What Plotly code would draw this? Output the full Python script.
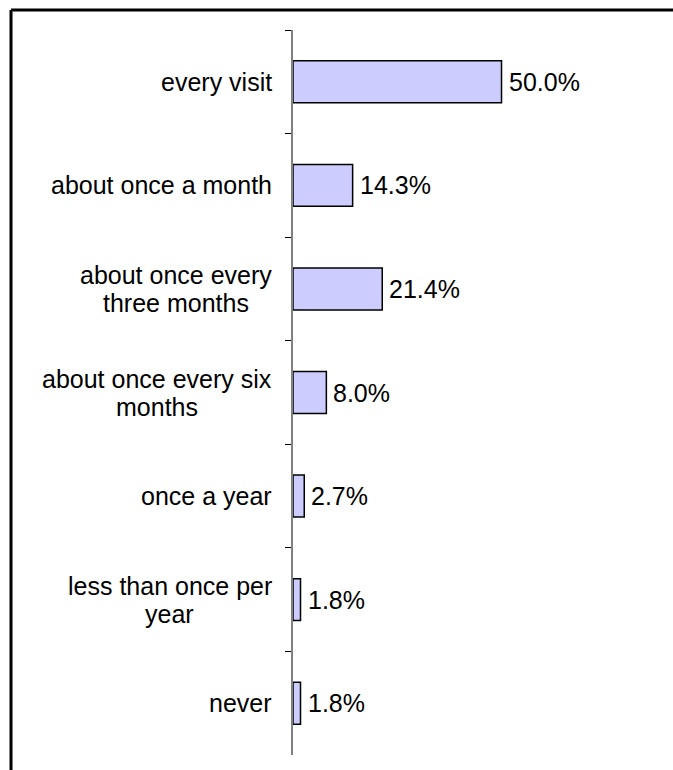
import plotly.graph_objects as go

# Survey responses: how often the activity happens
categories = [
    "every visit",
    "about once a month",
    "about once every three months",
    "about once every six months",
    "once a year",
    "less than once per year",
    "never",
]
# How each category name wraps onto lines
label_lines = [
    ["every visit"],
    ["about once a month"],
    ["about once every", "three months"],
    ["about once every six", "months"],
    ["once a year"],
    ["less than once per", "year"],
    ["never"],
]
percentages = [50.0, 14.3, 21.4, 8.0, 2.7, 1.8, 1.8]

FONT = "Liberation Sans, Arial, sans-serif"
FS = 25
LINE_H = 28
LABEL_GAP = 21

# Advance widths (per 1000 em) for Liberation Sans / Arial, used to centre
# wrapped label lines under each other.
ADV = {
    " ": 278, "a": 556, "b": 556, "c": 500, "e": 556, "h": 556, "i": 222,
    "l": 222, "m": 833, "n": 556, "o": 556, "p": 556, "r": 333, "s": 500,
    "t": 278, "u": 556, "v": 500, "x": 500, "y": 500,
}


def text_width(s):
    return sum(ADV.get(ch, 556) for ch in s) * FS / 1000.0


W, H = 673, 770
ML, MR, MT, MB = 293, 13, 30, 15

fig = go.Figure(
    go.Bar(
        x=percentages,
        y=categories,
        orientation="h",
        marker=dict(color="#CCCCFF", line=dict(color="#000000", width=1.5)),
        hoverinfo="skip",
    )
)

# Value labels just past the end of each bar
for cat, val in zip(categories, percentages):
    fig.add_annotation(
        x=val, xref="x", xanchor="left", xshift=5,
        y=cat, yref="y", yanchor="middle",
        text=f"{val:.1f}%", showarrow=False,
        font=dict(family=FONT, size=FS, color="#000000"),
    )

# Category labels: block right-aligned to the axis, lines centred in the block
for cat, lines in zip(categories, label_lines):
    n = len(lines)
    block_w = max(text_width(s) for s in lines)
    for i, line in enumerate(lines):
        fig.add_annotation(
            x=0, xref="paper", xanchor="center",
            xshift=-LABEL_GAP - block_w / 2,
            y=cat, yref="y", yanchor="middle",
            yshift=((n - 1) / 2 - i) * LINE_H,
            text=line, showarrow=False,
            font=dict(family=FONT, size=FS, color="#000000"),
        )

pw = W - ML - MR
ph = H - MT - MB

# Outer frame: left and top edges (the rest falls outside the view)
frame_x = (11 - ML) / pw
frame_y = 1 + (MT - 10) / ph
fig.add_shape(type="line", xref="paper", yref="paper",
              x0=frame_x, x1=frame_x, y0=-MB / ph - 0.01, y1=frame_y,
              line=dict(color="#000000", width=3), layer="above")
fig.add_shape(type="line", xref="paper", yref="paper",
              x0=frame_x, x1=1 + MR / pw, y0=frame_y, y1=frame_y,
              line=dict(color="#000000", width=3), layer="above")

fig.update_layout(
    width=W, height=H,
    margin=dict(l=ML, r=MR, t=MT, b=MB, pad=0),
    paper_bgcolor="#FFFFFF", plot_bgcolor="#FFFFFF",
    showlegend=False,
    bargap=0.595,
    font=dict(family=FONT, size=FS, color="#000000"),
)
fig.update_xaxes(
    range=[0, 88], visible=False, showgrid=False, zeroline=False,
)
fig.update_yaxes(
    type="category",
    categoryorder="array", categoryarray=categories,
    autorange="reversed",
    showticklabels=False,
    tickson="boundaries",
    ticks="outside", ticklen=6, tickcolor="#000000", tickwidth=1,
    showline=True, linecolor="#808080", linewidth=2,
    showgrid=False, zeroline=False,
)

fig.write_html("out.html")
